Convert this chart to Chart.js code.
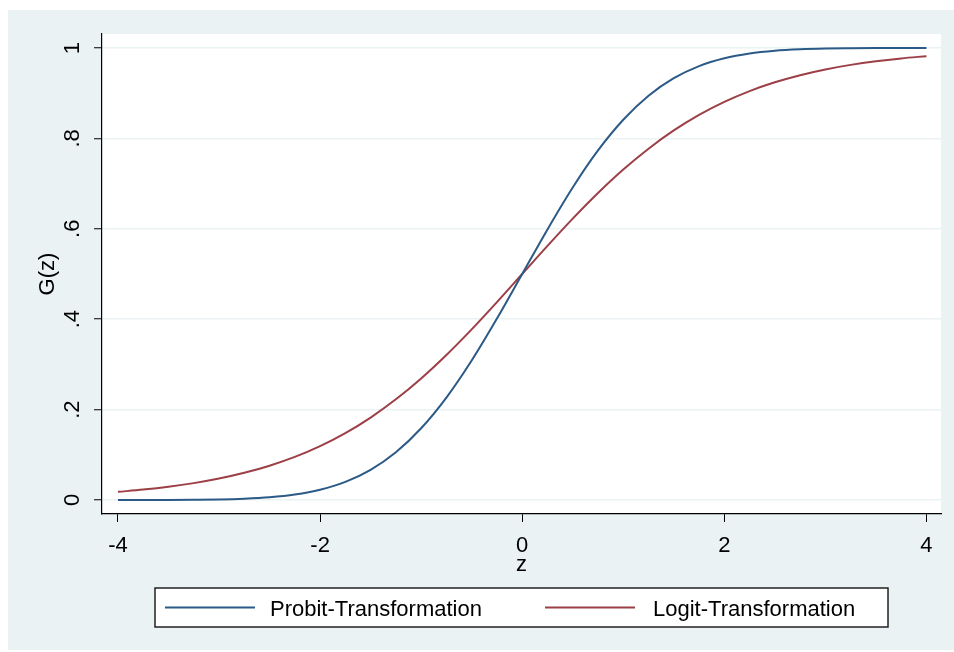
<!DOCTYPE html>
<html><head><meta charset="utf-8">
<script src="https://cdn.jsdelivr.net/npm/chart.js@4"></script>
<style>html,body{margin:0;padding:0;background:#fff;overflow:hidden} canvas{display:block}</style>
</head><body>
<canvas id="c" width="954" height="652" style="width:954px;height:652px"></canvas>
<script>
// ---- data ----
const zValues = [-4,-3.75,-3.5,-3.25,-3,-2.75,-2.5,-2.25,-2,-1.75,-1.5,-1.25,-1,-0.75,-0.5,-0.25,0,
                 0.25,0.5,0.75,1,1.25,1.5,1.75,2,2.25,2.5,2.75,3,3.25,3.5,3.75,4];
const probitValues = [0.0000,0.0001,0.0002,0.0006,0.0013,0.0030,0.0062,0.0122,0.0228,0.0401,0.0668,0.1056,0.1587,0.2266,0.3085,0.4013,0.5000,
                      0.5987,0.6915,0.7734,0.8413,0.8944,0.9332,0.9599,0.9772,0.9878,0.9938,0.9970,0.9987,0.9994,0.9998,0.9999,1.0000];
const logitValues = [0.0180,0.0230,0.0293,0.0373,0.0474,0.0601,0.0759,0.0953,0.1192,0.1480,0.1824,0.2227,0.2689,0.3208,0.3775,0.4378,0.5000,
                     0.5622,0.6225,0.6792,0.7311,0.7773,0.8176,0.8520,0.8808,0.9047,0.9241,0.9399,0.9526,0.9627,0.9707,0.9770,0.9820];
const xTickValues = [-4,-2,0,2,4];
const xTickLabels = ['-4','-2','0','2','4'];
const yTickValues = [0,0.2,0.4,0.6,0.8,1];
const yTickLabels = ['0','.2','.4','.6','.8','1'];
const seriesLabels = ['Probit-Transformation','Logit-Transformation'];
const xAxisTitle = 'z';
const yAxisTitle = 'G(z)';

const FONT = '"Liberation Sans", Arial, sans-serif';
const BG = '#eaf2f3';
const COL_P = '#2b5a87';
const COL_L = '#9c3f46';

const decor = {
  id: 'decor',
  beforeDraw(chart) {
    const ctx = chart.ctx, a = chart.chartArea;
    ctx.save();
    ctx.fillStyle = '#ffffff';
    ctx.fillRect(0, 0, chart.width, chart.height);
    ctx.fillStyle = BG;
    ctx.fillRect(8, 10, chart.width - 8, 640);
    ctx.fillStyle = '#ffffff';
    ctx.fillRect(a.left, a.top, a.right - a.left, a.bottom - a.top);
    ctx.restore();
  },
  afterDraw(chart) {
    const ctx = chart.ctx, a = chart.chartArea, ys = chart.scales.y;
    ctx.save();
    ctx.fillStyle = '#000';
    ctx.font = '22px ' + FONT;
    // rotated y tick labels
    yTickValues.forEach((v, i) => {
      const py = ys.getPixelForValue(v);
      ctx.save();
      ctx.translate(79, py);
      ctx.rotate(-Math.PI / 2);
      ctx.textAlign = 'center';
      ctx.textBaseline = 'alphabetic';
      ctx.fillText(yTickLabels[i], 0, 0);
      ctx.restore();
    });
    // y title
    ctx.save();
    ctx.translate(54, (a.top + a.bottom) / 2);
    ctx.rotate(-Math.PI / 2);
    ctx.textAlign = 'center';
    ctx.textBaseline = 'alphabetic';
    ctx.fillText(yAxisTitle, 0, 0);
    ctx.restore();
    // x title
    ctx.textAlign = 'center';
    ctx.textBaseline = 'alphabetic';
    ctx.fillText(xAxisTitle, (a.left + a.right) / 2, 571);
    // legend
    ctx.fillStyle = '#fff';
    ctx.fillRect(155, 588, 733, 39);
    ctx.strokeStyle = '#222';
    ctx.lineWidth = 1.5;
    ctx.strokeRect(155, 588, 733, 39);
    const items = [{x0:165,x1:255,tx:270},{x0:545,x1:635,tx:653}];
    chart.data.datasets.forEach((ds, i) => {
      const it = items[i];
      ctx.strokeStyle = ds.borderColor;
      ctx.lineWidth = 2;
      ctx.beginPath();
      ctx.moveTo(it.x0, 607.5);
      ctx.lineTo(it.x1, 607.5);
      ctx.stroke();
      ctx.fillStyle = '#000';
      ctx.textAlign = 'left';
      ctx.textBaseline = 'alphabetic';
      ctx.fillText(ds.label, it.tx, 616);
    });
    ctx.restore();
  }
};

new Chart(document.getElementById('c'), {
  type: 'line',
  data: {
    datasets: [
      { label: seriesLabels[0], data: zValues.map((z, i) => ({x: z, y: probitValues[i]})),
        borderColor: COL_P, borderWidth: 2, pointRadius: 0, cubicInterpolationMode: 'monotone', fill: false },
      { label: seriesLabels[1], data: zValues.map((z, i) => ({x: z, y: logitValues[i]})),
        borderColor: COL_L, borderWidth: 2, pointRadius: 0, cubicInterpolationMode: 'monotone', fill: false }
    ]
  },
  options: {
    responsive: false,
    animation: false,
    devicePixelRatio: 1,
    layout: { padding: { left: 0, right: 13, top: 34, bottom: 0 } },
    plugins: { legend: { display: false }, tooltip: { enabled: false }, title: { display: false } },
    scales: {
      x: {
        type: 'linear',
        min: -4.158, max: 4.144,
        afterBuildTicks(s) { s.ticks = xTickValues.map(v => ({ value: v })); },
        afterFit(s) { s.height = 138; },
        ticks: {
          color: '#000', font: { family: FONT, size: 22 }, padding: 11, maxRotation: 0, autoSkip: false,
          callback(v) { const i = xTickValues.indexOf(v); return i >= 0 ? xTickLabels[i] : ''; }
        },
        grid: { drawOnChartArea: false, drawTicks: true, tickLength: 8, tickColor: '#000', tickWidth: 1 },
        border: { display: true, color: '#000', width: 1.2 }
      },
      y: {
        type: 'linear',
        min: -0.031, max: 1.031,
        afterBuildTicks(s) { s.ticks = yTickValues.map(v => ({ value: v })); },
        afterFit(s) { s.width = 102; },
        ticks: { display: false },
        grid: { color: BG, lineWidth: 1.5, drawTicks: true, tickLength: 8, tickColor: '#000', tickWidth: 1 },
        border: { display: true, color: '#000', width: 1.2 }
      }
    }
  },
  plugins: [decor]
});
</script>
</body></html>
